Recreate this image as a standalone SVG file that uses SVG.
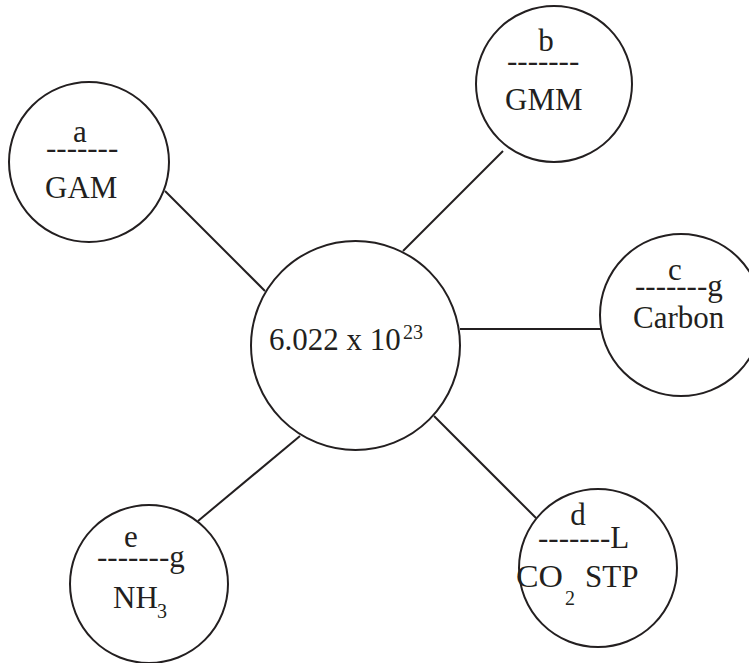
<svg xmlns="http://www.w3.org/2000/svg" width="749" height="663" viewBox="0 0 749 663">
<style>
.n{fill:#fff;stroke:#231f20;stroke-width:2}
.c line{stroke:#231f20;stroke-width:2}
text{font-family:"Liberation Serif","Times New Roman",serif;font-size:31px;fill:#231f20}
.s{font-size:20px}
.m{text-anchor:middle}
</style>
<rect width="749" height="663" fill="#fff"/>
<g id="connectors" class="c">
<line x1="165" y1="191" x2="265" y2="291"/>
<line x1="503" y1="151" x2="403" y2="251"/>
<line x1="460" y1="329" x2="601" y2="329"/>
<line x1="434" y1="416" x2="536" y2="518"/>
<line x1="300" y1="436" x2="198" y2="521"/>
</g>
<g id="center">
<circle class="n" cx="355.5" cy="345.5" r="104.5"/>
<text x="269" y="350">6.022 x 10<tspan class="s" x="403" y="339">23</tspan></text>
</g>
<g id="node-a">
<circle class="n" cx="89" cy="162" r="80"/>
<text class="m" x="80" y="142">a</text>
<text x="46" y="158">-------</text>
<text x="45" y="198">GAM</text>
</g>
<g id="node-b">
<circle class="n" cx="554" cy="84" r="78"/>
<text class="m" x="546" y="51">b</text>
<text x="507" y="71">-------</text>
<text x="505" y="110">GMM</text>
</g>
<g id="node-c">
<circle class="n" cx="681" cy="315" r="81"/>
<text class="m" x="675" y="280">c</text>
<text x="635" y="296">-------g</text>
<text x="633" y="328">Carbon</text>
</g>
<g id="node-d">
<circle class="n" cx="598" cy="568" r="79"/>
<text class="m" x="578" y="525">d</text>
<text x="538" y="548">-------L</text>
<text x="516" y="587" textLength="47" lengthAdjust="spacingAndGlyphs">CO</text>
<text class="s" x="565" y="605">2</text>
<text x="585" y="587">STP</text>
</g>
<g id="node-e">
<circle class="n" cx="149" cy="584" r="79"/>
<text class="m" x="131" y="547">e</text>
<text x="97" y="567">-------g</text>
<text x="113" y="608">NH<tspan class="s" x="157" y="618">3</tspan></text>
</g>
</svg>
